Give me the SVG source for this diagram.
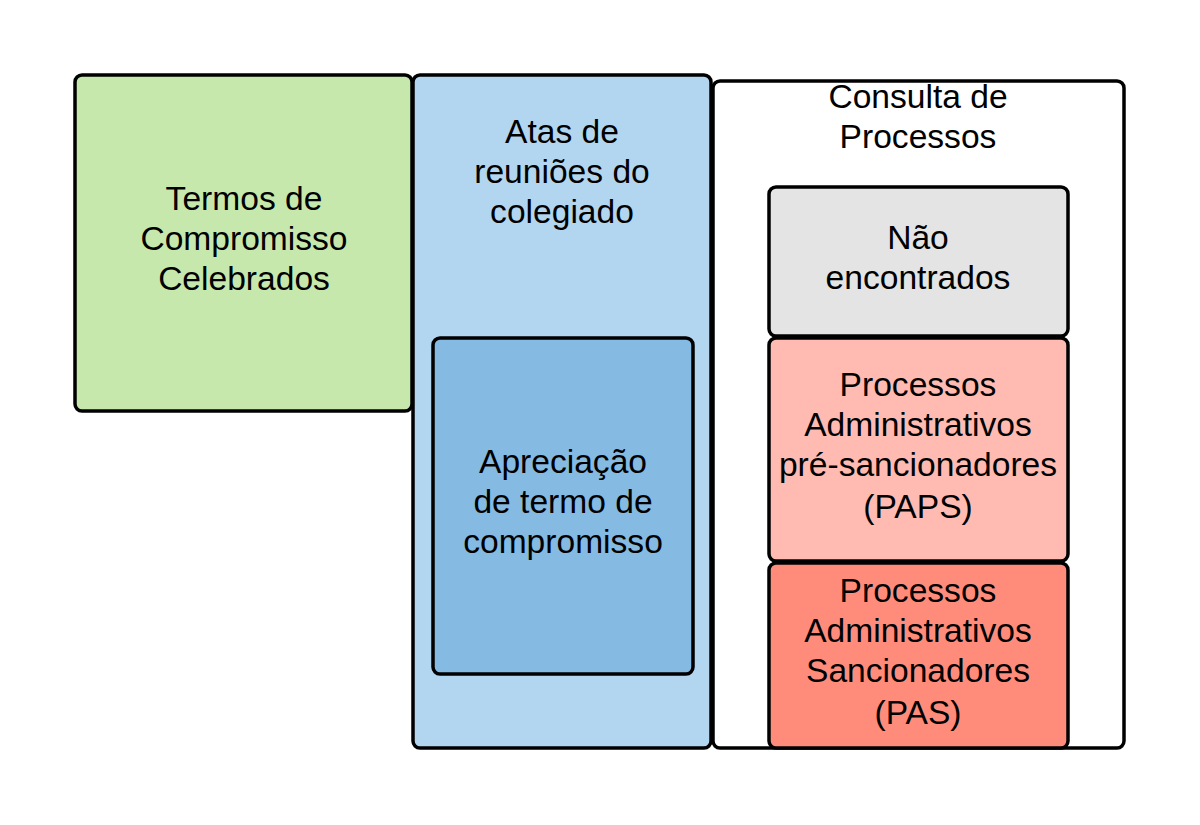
<svg xmlns="http://www.w3.org/2000/svg" width="1200" height="825" viewBox="0 0 1200 825">
<style>
.b{stroke:#000;stroke-width:3.5}
text{font-family:"Liberation Sans",Arial,sans-serif;font-size:33.6px;fill:#000;text-anchor:middle}
</style>
<rect width="1200" height="825" fill="#fff"/>
<g id="termos"><rect class="b" x="75" y="75" width="337" height="336" rx="7" fill="#c7e8ac"/>
<text x="244" y="210">Termos de</text><text x="244" y="250">Compromisso</text><text x="244" y="290">Celebrados</text></g>
<g id="atas"><rect class="b" x="413" y="75" width="298" height="673" rx="7" fill="#b3d6f0"/>
<text x="562" y="143">Atas de</text><text x="562" y="183">reuniões do</text><text x="562" y="223">colegiado</text></g>
<g id="apreciacao"><rect class="b" x="433" y="338" width="260" height="336" rx="7" fill="#85bae3"/>
<text x="563" y="473">Apreciação</text><text x="563" y="513">de termo de</text><text x="563" y="553">compromisso</text></g>
<g id="consulta"><rect class="b" x="713" y="81" width="411" height="667" rx="7" fill="#fff"/>
<text x="918" y="108">Consulta de</text><text x="918" y="148">Processos</text></g>
<g id="nao"><rect class="b" x="769" y="187" width="299" height="149" rx="7" fill="#e4e4e4"/>
<text x="918" y="249">Não</text><text x="918" y="289">encontrados</text></g>
<g id="paps"><rect class="b" x="769" y="338" width="299" height="223" rx="7" fill="#ffbbb1"/>
<text x="918" y="396">Processos</text><text x="918" y="436">Administrativos</text><text x="918" y="476">pré-sancionadores</text><text x="918" y="518">(PAPS)</text></g>
<g id="pas"><rect class="b" x="769" y="563" width="299" height="185" rx="7" fill="#ff8c7b"/>
<text x="918" y="602">Processos</text><text x="918" y="642">Administrativos</text><text x="918" y="682">Sancionadores</text><text x="918" y="724">(PAS)</text></g>
<g id="connectors"/>
</svg>
